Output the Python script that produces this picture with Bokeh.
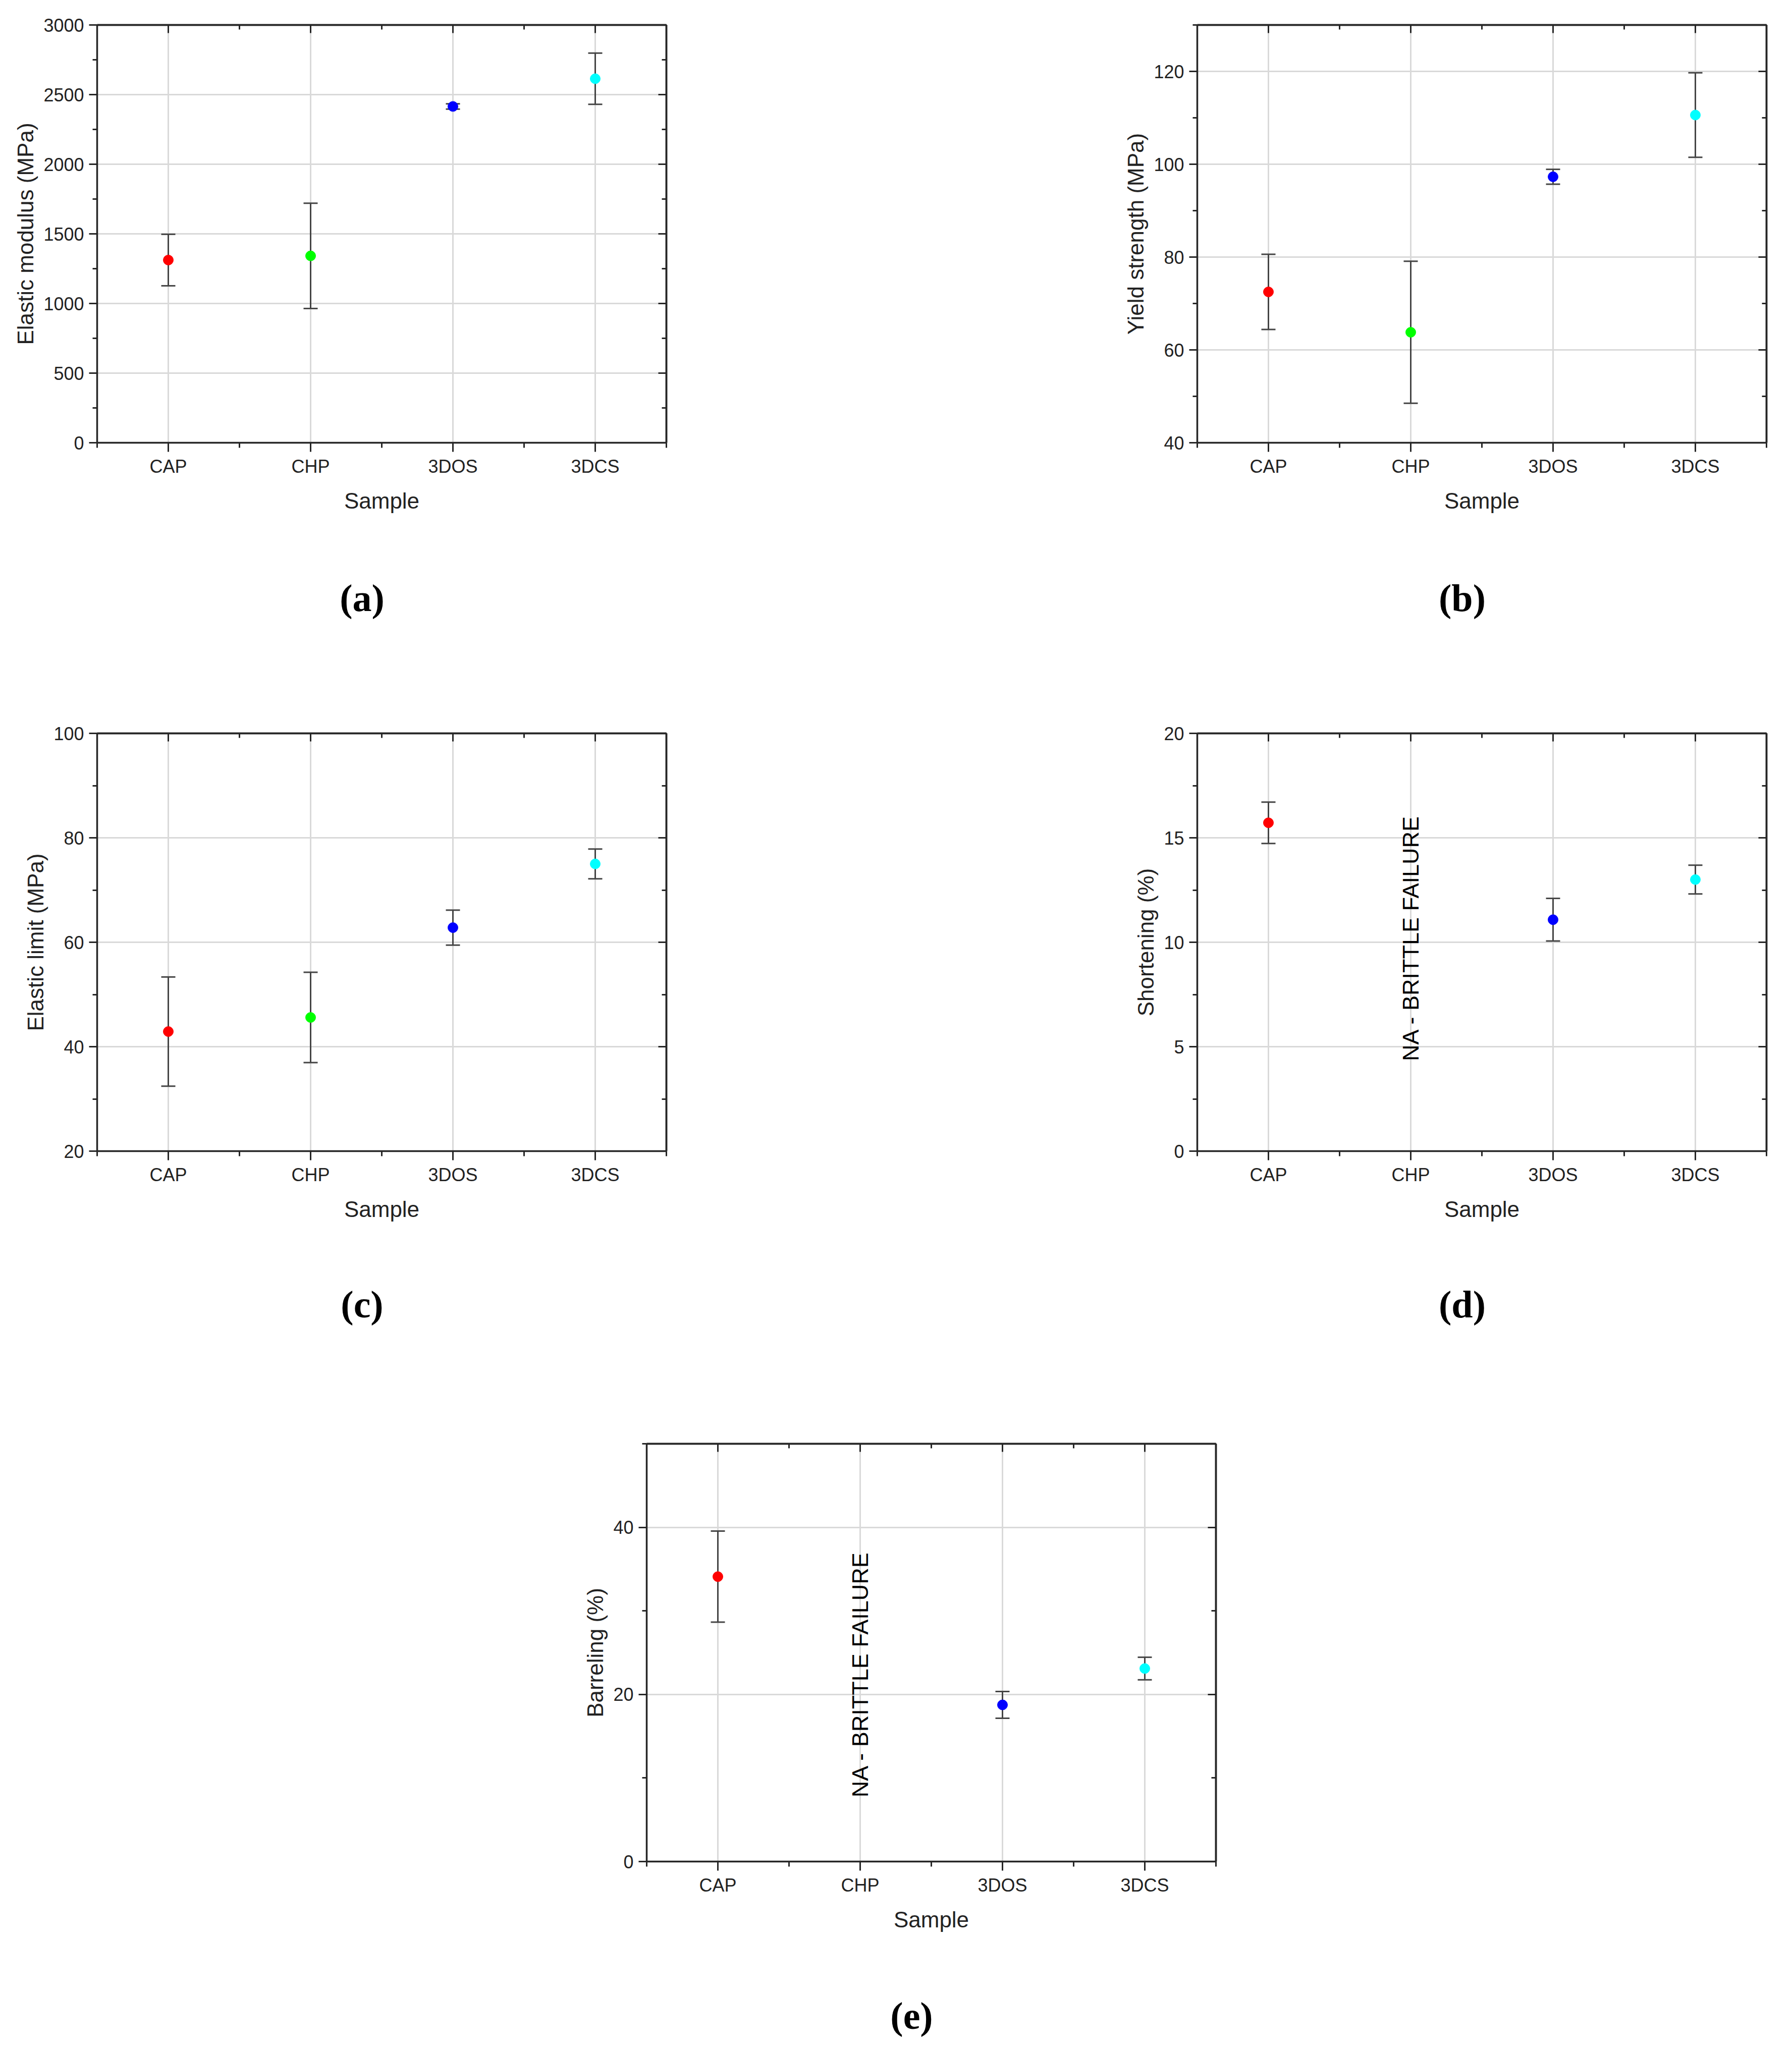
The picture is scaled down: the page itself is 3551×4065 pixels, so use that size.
import math

from bokeh.core.properties import value
from bokeh.embed import file_html
from bokeh.layouts import column, row
from bokeh.models import (ColumnDataSource, FixedTicker, LinearAxis, Range1d,
                          Spacer, TeeHead, Whisker)
from bokeh.plotting import figure
from bokeh.resources import INLINE

# data (mean and standard deviation per sample)
samples = ["CAP", "CHP", "3DOS", "3DCS"]
sample_colors = ["#ff0000", "#00ff00", "#0000ff", "#00ffff"]

elastic_modulus = [1312, 1342, 2415, 2614]
elastic_modulus_sd = [185, 378, 19, 184]

yield_strength = [72.5, 63.8, 97.3, 110.6]
yield_strength_sd = [8.1, 15.3, 1.6, 9.1]

elastic_limit = [42.9, 45.6, 62.8, 75.0]
elastic_limit_sd = [10.45, 8.65, 3.35, 2.85]

# CHP broke brittle, no value
shortening = [15.72, None, 11.08, 13.0]
shortening_sd = [0.99, None, 1.02, 0.69]

barreling = [34.1, None, 18.75, 23.1]
barreling_sd = [5.45, None, 1.6, 1.35]

na_text = "NA - BRITTLE FAILURE"

FONT = "Liberation Sans"
AXIS_COLOR = "#262626"
TEXT_COLOR = "#222222"
GRID_COLOR = "#d9d9d9"
ERR_COLOR = "#444444"

FIG_W = 1340
FIG_H = 1037   # 49 top + 828 frame + 160 for the x axis

xpos = [i + 1 for i in range(len(samples))]
x_minor = [x - 0.5 for x in xpos] + [xpos[-1] + 0.5]


def style_line(ax):
    ax.axis_line_color = AXIS_COLOR
    ax.axis_line_width = 3.5
    ax.major_tick_line_color = AXIS_COLOR
    ax.major_tick_line_width = 3
    ax.minor_tick_line_color = AXIS_COLOR
    ax.minor_tick_line_width = 3


def add_mirror(p, side, positions, length):
    # tick marks only (no labels) pointing into the frame
    ax = LinearAxis(ticker=FixedTicker(ticks=[], minor_ticks=positions))
    style_line(ax)
    ax.minor_tick_in, ax.minor_tick_out = length, 0
    ax.major_tick_in, ax.major_tick_out = 0, 0
    ax.major_label_standoff = 0
    ax.axis_label_standoff = 0
    p.add_layout(ax, side)


def make_panel(values, sds, ylabel, y0, y1, step, note_y=None):
    keep = [i for i, v in enumerate(values) if v is not None]
    src = ColumnDataSource(dict(
        x=[xpos[i] for i in keep],
        y=[values[i] for i in keep],
        color=[sample_colors[i] for i in keep],
        upper=[values[i] + sds[i] for i in keep],
        lower=[values[i] - sds[i] for i in keep],
    ))

    p = figure(width=FIG_W, height=FIG_H,
               x_range=Range1d(0.5, len(samples) + 0.5), y_range=Range1d(y0, y1),
               output_backend="svg", toolbar_location=None,
               min_border_left=192, min_border_right=20, min_border_top=49,
               min_border_bottom=FIG_H - 49 - 828)
    p.outline_line_color = None
    p.background_fill_color = "white"
    p.border_fill_color = "white"

    y_major = list(range(y0, y1 + 1, step))
    y_minor = [m + step / 2 for m in y_major if m + step / 2 <= y1]

    xa = p.xaxis[0]
    xa.ticker = FixedTicker(ticks=xpos, minor_ticks=x_minor)
    xa.major_label_overrides = {x: s for x, s in zip(xpos, samples)}
    xa.axis_label = "Sample"
    xa.major_tick_out, xa.major_tick_in = 18, 0
    xa.minor_tick_out, xa.minor_tick_in = 10, 0
    xa.major_label_standoff = 8
    xa.axis_label_standoff = 20

    ya = p.yaxis[0]
    ya.ticker = FixedTicker(ticks=y_major, minor_ticks=y_minor)
    ya.axis_label = ylabel
    ya.major_tick_out, ya.major_tick_in = 16, 0
    ya.minor_tick_out, ya.minor_tick_in = 9, 0
    ya.major_label_standoff = 10
    ya.axis_label_standoff = 8

    for ax in (xa, ya):
        style_line(ax)
        ax.major_label_text_font = FONT
        ax.major_label_text_font_size = "36px"
        ax.major_label_text_color = TEXT_COLOR
        ax.axis_label_text_font = FONT
        ax.axis_label_text_font_size = "44px"
        ax.axis_label_text_font_style = "normal"
        ax.axis_label_text_color = TEXT_COLOR

    # mirrored box axes on top and right
    add_mirror(p, "above", xpos, 16)
    add_mirror(p, "above", x_minor, 9)
    add_mirror(p, "right", y_major, 16)
    add_mirror(p, "right", y_minor, 9)

    p.xgrid.grid_line_color = GRID_COLOR
    p.xgrid.grid_line_width = 3
    p.ygrid.grid_line_color = GRID_COLOR
    p.ygrid.grid_line_width = 3

    err = Whisker(base="x", upper="upper", lower="lower", source=src, dimension="height",
                  line_color=ERR_COLOR, line_width=3, level="underlay",
                  upper_head=TeeHead(size=28, line_color=ERR_COLOR, line_width=3),
                  lower_head=TeeHead(size=28, line_color=ERR_COLOR, line_width=3))
    p.add_layout(err)
    p.scatter("x", "y", source=src, size=20, fill_color="color", line_color="color")

    if note_y is not None:
        p.text(x=[xpos[samples.index("CHP")]], y=[note_y], text=[na_text], angle=math.pi / 2,
               text_align="center", text_baseline="middle", text_font=value(FONT),
               text_font_size="45px", text_color="black")
    return p


def make_caption(text, height, from_top):
    # strip holding the panel letter, e.g. "(a)"
    c = figure(width=FIG_W, height=height, x_range=Range1d(0, FIG_W), y_range=Range1d(0, height),
               x_axis_type=None, y_axis_type=None, output_backend="svg", toolbar_location=None,
               min_border=0)
    c.outline_line_color = None
    c.xgrid.visible = False
    c.ygrid.visible = False
    c.text(x=[717], y=[height - from_top], text=[text], text_align="center",
           text_baseline="middle", text_font=value("Liberation Serif"),
           text_font_style="bold", text_font_size="76px", text_color="black")
    return c


pa = make_panel(elastic_modulus, elastic_modulus_sd, "Elastic modulus (MPa)", 0, 3000, 500)
pb = make_panel(yield_strength, yield_strength_sd, "Yield strength (MPa)", 40, 130, 20)
pc = make_panel(elastic_limit, elastic_limit_sd, "Elastic limit (MPa)", 20, 100, 20)
pd = make_panel(shortening, shortening_sd, "Shortening (%)", 0, 20, 5, note_y=10.2)
pe = make_panel(barreling, barreling_sd, "Barreling (%)", 0, 50, 20, note_y=22.4)

layout = column(
    row(pa, Spacer(width=840, height=10), pb),
    row(make_caption("(a)", 367, 147), Spacer(width=840, height=10), make_caption("(b)", 367, 147)),
    row(pc, Spacer(width=840, height=10), pd),
    row(make_caption("(c)", 371, 143), Spacer(width=840, height=10), make_caption("(d)", 371, 143)),
    row(Spacer(width=1089, height=10), pe),
    row(Spacer(width=1089, height=10), make_caption("(e)", 200, 145)),
)

open("out.html", "w").write(file_html(layout, INLINE))
